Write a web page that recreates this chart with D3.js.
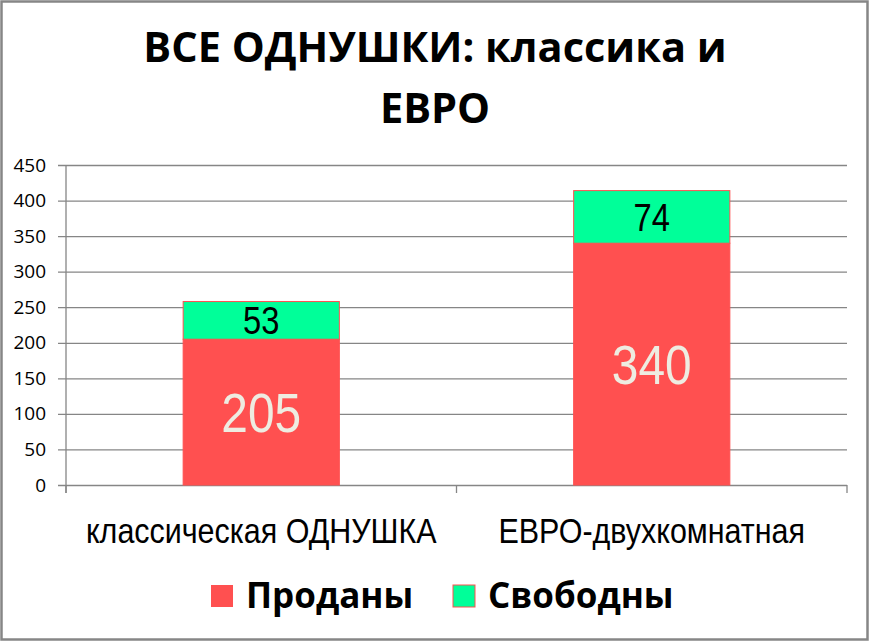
<!DOCTYPE html>
<html>
<head>
<meta charset="utf-8">
<script src="https://cdn.jsdelivr.net/npm/d3@7"></script>
<style>
  body { margin: 0; background: #fff; }
  .narrow { font-family: "Liberation Sans", Arial, sans-serif; }
  .bold { font-family: "Open Sans", "Noto Sans", sans-serif; font-weight: 700; }
</style>
</head>
<body>
<svg id="chart"></svg>
<script>
// chart data
const categories = ['классическая ОДНУШКА', 'ЕВРО-двухкомнатная'];
const soldValues = [205, 340];
const freeValues = [53, 74];
const seriesNames = ['Проданы', 'Свободны'];
const seriesColors = ['#ff5050', '#00ff99'];
const yTickValues = [0, 50, 100, 150, 200, 250, 300, 350, 400, 450];
const titleLines = ['ВСЕ ОДНУШКИ: классика и', 'ЕВРО'];

const config = {
    width: 870,
    height: 642,
    plot: {left: 66, right: 847, top: 165, bottom: 485},
    barShare: 0.4,
    narrowScale: 0.87   // no Arial Narrow installed, squeeze Liberation Sans instead
};

const svg = d3.select('#chart')
    .attr('width', config.width)
    .attr('height', config.height);

// outer frame
svg.append('rect')
    .attr('x', 1.5).attr('y', 1.5)
    .attr('width', config.width - 4).attr('height', config.height - 4)
    .attr('fill', '#fff')
    .attr('stroke', '#868686')
    .attr('stroke-width', 2.5);

// title
svg.append('text')
    .attr('class', 'bold')
    .attr('text-anchor', 'middle')
    .attr('font-size', 41.5)
    .attr('fill', '#000')
    .selectAll('tspan')
    .data(titleLines)
    .join('tspan')
    .attr('x', 435)
    .attr('y', (d, i) => 62 + i * 61)
    .text(d => d);

const xScale = d3.scaleBand()
    .domain(categories)
    .range([config.plot.left, config.plot.right]);

const yScale = d3.scaleLinear()
    .domain([0, 450])
    .range([config.plot.bottom, config.plot.top]);

// gridlines + y axis
const yAxis = d3.axisLeft(yScale)
    .tickValues(yTickValues)
    .tickSize(-(config.plot.right - config.plot.left))
    .tickSizeOuter(0)
    .tickPadding(20);

const yAxisG = svg.append('g')
    .attr('transform', `translate(${config.plot.left},0)`)
    .call(yAxis);
yAxisG.select('.domain').remove();
yAxisG.selectAll('line')
    .attr('x1', -8)
    .attr('stroke', '#868686')
    .attr('stroke-width', 1.3);
yAxisG.selectAll('text')
    .attr('font-family', '"Open Sans", sans-serif')
    .attr('font-size', 19)
    .attr('fill', '#000');

// vertical axis line
svg.append('line')
    .attr('x1', config.plot.left).attr('x2', config.plot.left)
    .attr('y1', config.plot.top).attr('y2', config.plot.bottom + 8)
    .attr('stroke', '#868686')
    .attr('stroke-width', 1.3);

// category labels (squeezed horizontally)
svg.append('g')
    .selectAll('text')
    .data(categories)
    .join('text')
    .attr('class', 'narrow')
    .attr('text-anchor', 'middle')
    .attr('font-size', 35)
    .attr('fill', '#000')
    .attr('transform', d => `translate(${xScale(d) + xScale.bandwidth() / 2},543) scale(${config.narrowScale},1)`)
    .text(d => d);

// category boundary ticks
const boundaries = categories.map(c => xScale(c)).concat([xScale.range()[1]]);
svg.append('g')
    .selectAll('line')
    .data(boundaries)
    .join('line')
    .attr('x1', d => d).attr('x2', d => d)
    .attr('y1', config.plot.bottom).attr('y2', config.plot.bottom + 8)
    .attr('stroke', '#868686')
    .attr('stroke-width', 1.3);

// stacked bars
const table = categories.map((c, i) => ({category: c, sold: soldValues[i], free: freeValues[i]}));
const stacked = d3.stack().keys(['sold', 'free'])(table);

const barWidth = xScale.bandwidth() * config.barShare;
const barX = d => xScale(d.data.category) + (xScale.bandwidth() - barWidth) / 2;

const layer = svg.append('g')
    .selectAll('g')
    .data(stacked)
    .join('g')
    .attr('fill', (d, i) => seriesColors[i]);

layer.selectAll('rect')
    .data(d => d)
    .join('rect')
    .attr('x', barX)
    .attr('y', d => yScale(d[1]))
    .attr('width', barWidth)
    .attr('height', d => yScale(d[0]) - yScale(d[1]))
    .attr('stroke', '#ff5050')
    .attr('stroke-width', 1);

// value labels
const labelStyle = [{color: '#eeece1', size: 55, scale: 0.87}, {color: '#000', size: 39, scale: 0.84}];
layer.selectAll('text')
    .data((d, i) => d.map(v => ({v, i})))
    .join('text')
    .attr('class', 'narrow')
    .attr('text-anchor', 'middle')
    .attr('transform', d => {
        const cx = barX(d.v) + barWidth / 2;
        const cy = (yScale(d.v[0]) + yScale(d.v[1])) / 2;
        return `translate(${cx},${cy}) scale(${labelStyle[d.i].scale},1)`;
    })
    .attr('dy', '0.36em')
    .attr('font-size', d => labelStyle[d.i].size)
    .attr('fill', d => labelStyle[d.i].color)
    .text(d => d.v[1] - d.v[0]);

// legend
const legendItems = [
    {name: seriesNames[0], color: seriesColors[0], x: 211},
    {name: seriesNames[1], color: seriesColors[1], x: 453}
];
const legend = svg.append('g')
    .selectAll('g')
    .data(legendItems)
    .join('g')
    .attr('transform', d => `translate(${d.x},585)`);

legend.append('rect')
    .attr('width', 22).attr('height', 22)
    .attr('fill', d => d.color)
    .attr('stroke', (d, i) => i === 1 ? '#ff5050' : 'none')
    .attr('stroke-width', 1);

legend.append('text')
    .attr('class', 'bold')
    .attr('x', 35)
    .attr('y', 23)
    .attr('font-size', 35)
    .attr('fill', '#000')
    .text(d => d.name);
</script>
</body>
</html>
